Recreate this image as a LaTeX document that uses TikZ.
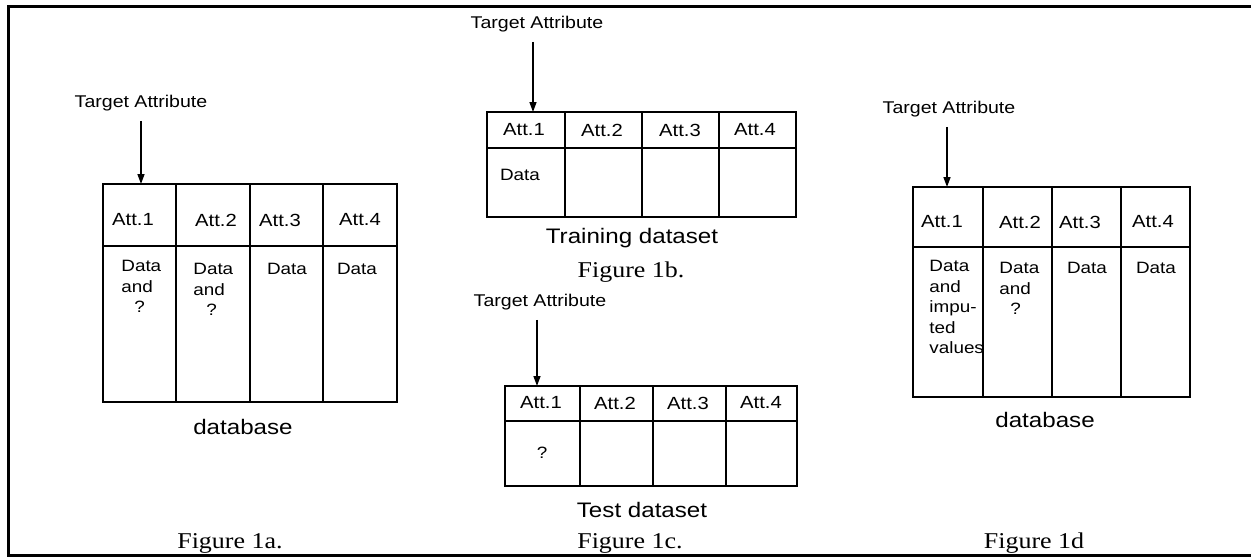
\documentclass[tikz,border=0pt]{standalone}
\usepackage{fontspec}
\setmainfont{Liberation Serif}[FakeStretch=1.15]
\newfontfamily\cellfont{Liberation Sans}[FakeStretch=1.15]
\usetikzlibrary{arrows.meta, positioning}

\tikzset{
  frameline/.style={line width=1.5pt},
  gridline/.style={line width=0.9pt},
  targetarrow/.style={line width=0.7pt, -{Triangle[length=5pt,width=3.5pt]}, shorten <=5pt},
  targetlabel/.style={inner sep=0pt, anchor=base, font=\cellfont\fontsize{8.5}{10}\selectfont},
  attlabel/.style={inner sep=0pt, font=\cellfont\fontsize{8.8}{10}\selectfont},
  celltext/.style={inner sep=0pt, align=left, font=\cellfont\fontsize{8.2}{10.25}\selectfont},
  setname/.style={inner sep=0pt, font=\cellfont\fontsize{10.5}{12}\selectfont},
  figlabel/.style={inner sep=0pt, anchor=base, font=\fontsize{11.3}{13}\selectfont},
}

\begin{document}
\begin{tikzpicture}[x=0.5pt, y=-0.5pt]
\useasboundingbox (0,0) rectangle (1251,557);
\draw[frameline] (1251,6) -- (8,6) -- (8,555) -- (1251,555);

% Figure 1a: database with missing values
\draw[gridline] (103,184) rectangle (397,402);
\draw[gridline] (103,246) -- (397,246);
\foreach \x in {176,250,323} \draw[gridline] (\x,184) -- (\x,402);
\coordinate (a-top) at (141,184);
\node[targetlabel] (a-target) at (141,107) {Target Attribute};
\draw[targetarrow] (a-top |- a-target.south) -- (a-top);
\node[attlabel] (a-att1) at (133,220) {Att.1};
\node[attlabel] (a-att2) at (216,220) {Att.2};
\node[attlabel] (a-att3) at (280,220) {Att.3};
\node[attlabel] (a-att4) at (360,220) {Att.4};
\node[celltext, anchor=north west] (a-data1) at (121,260) {Data\\and\\\hspace*{6.5pt}?};
\node[celltext, anchor=north west] (a-data2) at (193,263) {Data\\and\\\hspace*{6.5pt}?};
\node[celltext] (a-data3) at (287,269) {Data};
\node[celltext] (a-data4) at (357,269) {Data};
\node[setname] (a-name) at (243,427) {database};
\node[figlabel] (a-fig) at (230,548) {Figure 1a.};

% Figure 1b: training dataset
\draw[gridline] (487,112) rectangle (796,217);
\draw[gridline] (487,148) -- (796,148);
\foreach \x in {565,642,719} \draw[gridline] (\x,112) -- (\x,217);
\coordinate (b-top) at (533,112);
\node[targetlabel] (b-target) at (537,28) {Target Attribute};
\draw[targetarrow] (b-top |- b-target.south) -- (b-top);
\node[attlabel] (b-att1) at (524,130) {Att.1};
\node[attlabel] (b-att2) at (602,130) {Att.2};
\node[attlabel] (b-att3) at (680,130) {Att.3};
\node[attlabel] (b-att4) at (755,130) {Att.4};
\node[celltext] (b-data1) at (520,175) {Data};
\node[setname, anchor=base] (b-name) at (632,243) {Training dataset};
\node[figlabel] (b-fig) at (631,277) {Figure 1b.};

% Figure 1c: test dataset
\draw[gridline] (505,386) rectangle (797,486);
\draw[gridline] (505,421) -- (797,421);
\foreach \x in {580,653,726} \draw[gridline] (\x,386) -- (\x,486);
\coordinate (c-top) at (537,386);
\node[targetlabel] (c-target) at (540,306) {Target Attribute};
\draw[targetarrow] (c-top |- c-target.south) -- (c-top);
\node[attlabel] (c-att1) at (541,403) {Att.1};
\node[attlabel] (c-att2) at (615,403) {Att.2};
\node[attlabel] (c-att3) at (688,403) {Att.3};
\node[attlabel] (c-att4) at (761,403) {Att.4};
\node[celltext] (c-data1) at (542,453) {?};
\node[setname] (c-name) at (642,510) {Test dataset};
\node[figlabel] (c-fig) at (630,548) {Figure 1c.};

% Figure 1d: database after imputation
\draw[gridline] (913,187) rectangle (1190,397);
\draw[gridline] (913,247) -- (1190,247);
\foreach \x in {983,1052,1121} \draw[gridline] (\x,187) -- (\x,397);
\coordinate (d-top) at (947,187);
\node[targetlabel] (d-target) at (949,113) {Target Attribute};
\draw[targetarrow] (d-top |- d-target.south) -- (d-top);
\node[attlabel] (d-att1) at (942,222) {Att.1};
\node[attlabel] (d-att2) at (1020,222) {Att.2};
\node[attlabel] (d-att3) at (1080,222) {Att.3};
\node[attlabel] (d-att4) at (1153,222) {Att.4};
\node[celltext, anchor=north west] (d-data1) at (929,260) {Data\\and\\impu-\\ted\\values};
\node[celltext, anchor=north west] (d-data2) at (999,262) {Data\\and\\\hspace*{5.5pt}?};
\node[celltext] (d-data3) at (1087,268) {Data};
\node[celltext] (d-data4) at (1156,268) {Data};
\node[setname] (d-name) at (1045,420) {database};
\node[figlabel] (d-fig) at (1034,548) {Figure 1d};
\end{tikzpicture}
\end{document}
